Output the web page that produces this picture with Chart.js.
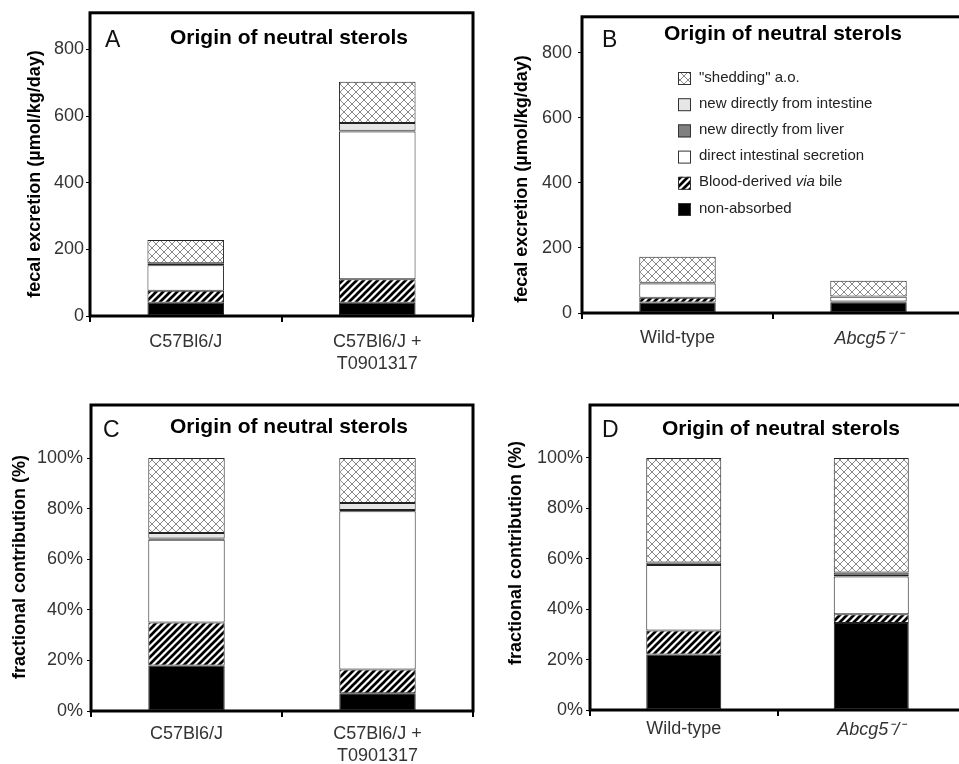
<!DOCTYPE html>
<html><head><meta charset="utf-8">
<script src="https://cdn.jsdelivr.net/npm/chart.js@4/dist/chart.umd.min.js"></script>
<style>
html,body{margin:0;padding:0;background:#fff;overflow:hidden}
#wrap{position:relative;width:959px;height:764px;overflow:hidden;background:#fff}
canvas{position:absolute}
</style></head><body>
<div id="wrap">
<canvas id="cA" width="480" height="380" style="left:0;top:0"></canvas>
<canvas id="cB" width="490" height="380" style="left:480px;top:0"></canvas>
<canvas id="cC" width="480" height="384" style="left:0;top:380px"></canvas>
<canvas id="cD" width="490" height="384" style="left:480px;top:380px"></canvas>
</div>
<script>
// ---- data ----
const seriesNames = ['non-absorbed','Blood-derived via bile','direct intestinal secretion','new directly from liver','new directly from intestine','"shedding" a.o.'];
const catsAC = ['C57Bl6/J', ['C57Bl6/J +','T0901317']];
const catsBD = ['Wild-type','Abcg5\u207B/\u207B'];
const ticksAbs = [0,200,400,600,800];
const ticksPct = [0,20,40,60,80,100];
const panelTitle = 'Origin of neutral sterols';
const yTitleAbs = 'fecal excretion (\u00B5mol/kg/day)';
const yTitlePct = 'fractional contribution (%)';

// Panel A (µmol/kg/day)
const nonAbsA = [40, 40];
const bloodA = [36, 70];
const directA = [76, 444];
const liverA = [1, 2];
const intestA = [5, 23];
const sheddingA = [70, 124];
// Panel B (µmol/kg/day)
const nonAbsB = [32, 33];
const bloodB = [15, 2];
const directB = [44, 15];
const liverB = [2, 1];
const intestB = [0, 0];
const sheddingB = [80, 48];
// Panel C (%)
const nonAbsC = [18, 7];
const bloodC = [17, 9.4];
const directC = [32.7, 62.6];
const liverC = [0.5, 0.5];
const intestC = [2.2, 2.7];
const sheddingC = [29.6, 17.8];
// Panel D (%)
const nonAbsD = [22, 34.5];
const bloodD = [9.5, 3.5];
const directD = [26, 15];
const liverD = [1, 0.7];
const intestD = [0, 0.8];
const sheddingD = [41.5, 45.5];

// ---- styles ----
const FAM = '"Liberation Sans", Arial, Helvetica, sans-serif';
Chart.defaults.font.family = FAM;

function crossPattern(){
  const s=8, c=document.createElement('canvas'); c.width=c.height=s;
  const g=c.getContext('2d'); g.fillStyle='#fff'; g.fillRect(0,0,s,s);
  g.strokeStyle='#8a8a8a'; g.lineWidth=1;
  g.beginPath(); g.moveTo(0,0); g.lineTo(s,s); g.moveTo(s,0); g.lineTo(0,s); g.stroke();
  return g.createPattern(c,'repeat');
}
function hatchPattern(){
  const s=7, c=document.createElement('canvas'); c.width=c.height=s;
  const g=c.getContext('2d'); g.fillStyle='#fff'; g.fillRect(0,0,s,s);
  g.strokeStyle='#000'; g.lineWidth=2.7; g.lineCap='square';
  g.beginPath();
  g.moveTo(-1,s+1); g.lineTo(s+1,-1);
  g.moveTo(-1,1); g.lineTo(1,-1);
  g.moveTo(s-1,s+1); g.lineTo(s+1,s-1);
  g.stroke();
  return g.createPattern(c,'repeat');
}
const fills = ['#000000', hatchPattern(), '#ffffff', '#808080', '#e6e6e6', crossPattern()];

function drawLegend(ctx, o){
  const order=[5,4,3,2,1,0];
  order.forEach((si,row)=>{
    const y = o.top + row*o.step;
    ctx.fillStyle = fills[si];
    ctx.fillRect(o.x, y, 13, 13);
    ctx.strokeStyle='#333'; ctx.lineWidth=1;
    ctx.strokeRect(o.x+0.5, y+0.5, 12, 12);
    const name = seriesNames[si];
    const parts = name.includes(' via ') ?
      [[name.split(' via ')[0]+' ', false],['via', true],[' '+name.split(' via ')[1], false]] : [[name,false]];
    let x = o.tx;
    ctx.fillStyle='#222'; ctx.textAlign='left'; ctx.textBaseline='alphabetic';
    parts.forEach(([t,it])=>{
      ctx.font = (it?'italic ':'') + '15px ' + FAM;
      ctx.fillText(t, x, y + 9.5);
      x += ctx.measureText(t).width;
    });
  });
}

const decor = {
  id:'decor',
  afterDatasetsDraw(chart, args, o){
    const {ctx, chartArea:a} = chart;
    ctx.save();
    ctx.strokeStyle='#000'; ctx.lineWidth=3;
    ctx.strokeRect(a.left, a.top, a.right-a.left, a.bottom-a.top);
    ctx.fillStyle='#111'; ctx.textAlign='left'; ctx.textBaseline='alphabetic';
    ctx.font = '23px ' + FAM;
    ctx.fillText(o.letter, o.letterX, o.letterY);
    ctx.fillStyle='#000'; ctx.textAlign='center';
    ctx.font = 'bold 21px ' + FAM;
    ctx.fillText(panelTitle, o.titleX, o.titleY);
    ctx.save();
    ctx.translate(o.yTitleX, o.yTitleY); ctx.rotate(-Math.PI/2);
    ctx.textBaseline='middle'; ctx.font='bold 18px ' + FAM;
    ctx.fillText(o.yTitle, 0, 0);
    ctx.restore();
    if (o.legend) drawLegend(ctx, o.legend);
    ctx.restore();
  }
};

function makeChart(id, cats, series, cfg){
  return new Chart(document.getElementById(id), {
    type:'bar',
    data:{
      labels: cats,
      datasets: series.map((d,i)=>({
        label: seriesNames[i], data: d, backgroundColor: fills[i],
        borderColor:'#222', borderWidth:1, borderSkipped:false,
        barPercentage:0.4, categoryPercentage:1
      }))
    },
    options:{
      responsive:false, animation:false, devicePixelRatio:1,
      layout:{padding:{top:cfg.top, right:cfg.right, left:0, bottom:0}},
      plugins:{legend:{display:false}, tooltip:{enabled:false}, decor: cfg.decor},
      scales:{
        x:{
          stacked:true,
          grid:{drawOnChartArea:false, drawTicks:true, tickLength:6, color:'#000', lineWidth:2, offset:true},
          border:{display:false},
          ticks:{
            padding:cfg.xPad, color:'#333', maxRotation:0, minRotation:0, autoSkip:false,
            font: c => ({size:18, family:FAM, style:(cfg.italic2 && c.index===1)?'italic':'normal', lineHeight:1.17})
          },
          afterFit: s => { s.height = cfg.xH; }
        },
        y:{
          stacked:true, min:0, max:cfg.max,
          grid:{drawOnChartArea:false, drawTicks:true, tickLength:4, color:'#000'},
          border:{display:false},
          ticks:{padding:cfg.yPad, color:'#333', font:{size:18}, callback: cfg.fmt},
          afterBuildTicks: s => { s.ticks = cfg.ticks.map(v=>({value:v})); },
          afterFit: s => { s.width = cfg.yW; }
        }
      }
    },
    plugins:[decor]
  });
}

makeChart('cA', catsAC, [nonAbsA,bloodA,directA,liverA,intestA,sheddingA], {
  top:12, right:7, yW:90, xH:64, max:910, ticks:ticksAbs, fmt:v=>String(v), xPad:10, yPad:2,
  decor:{letter:'A', letterX:105, letterY:47, titleX:289, titleY:44, yTitle:yTitleAbs, yTitleX:35, yTitleY:174}
});
makeChart('cB', catsBD, [nonAbsB,bloodB,directB,liverB,intestB,sheddingB], {
  top:12, right:6, yW:102, xH:67, max:910, ticks:ticksAbs, fmt:v=>String(v), xPad:9, yPad:6, italic2:true,
  decor:{letter:'B', letterX:122, letterY:47, titleX:303, titleY:40, yTitle:yTitleAbs, yTitleX:42, yTitleY:179,
    legend:{x:198, top:72, step:26.2, tx:219}}
});
makeChart('cC', catsAC, [nonAbsC,bloodC,directC,liverC,intestC,sheddingC], {
  top:25, right:7, yW:91, xH:53, max:121, ticks:ticksPct, fmt:v=>v+'%', xPad:7, yPad:4,
  decor:{letter:'C', letterX:103, letterY:57, titleX:289, titleY:53, yTitle:yTitlePct, yTitleX:20, yTitleY:187}
});
makeChart('cD', catsBD, [nonAbsD,bloodD,directD,liverD,intestD,sheddingD], {
  top:25, right:5, yW:110, xH:54, max:121, ticks:ticksPct, fmt:v=>v+'%', xPad:3, yPad:3, italic2:true,
  decor:{letter:'D', letterX:122, letterY:57, titleX:301, titleY:55, yTitle:yTitlePct, yTitleX:36, yTitleY:173}
});
</script>
</body></html>
